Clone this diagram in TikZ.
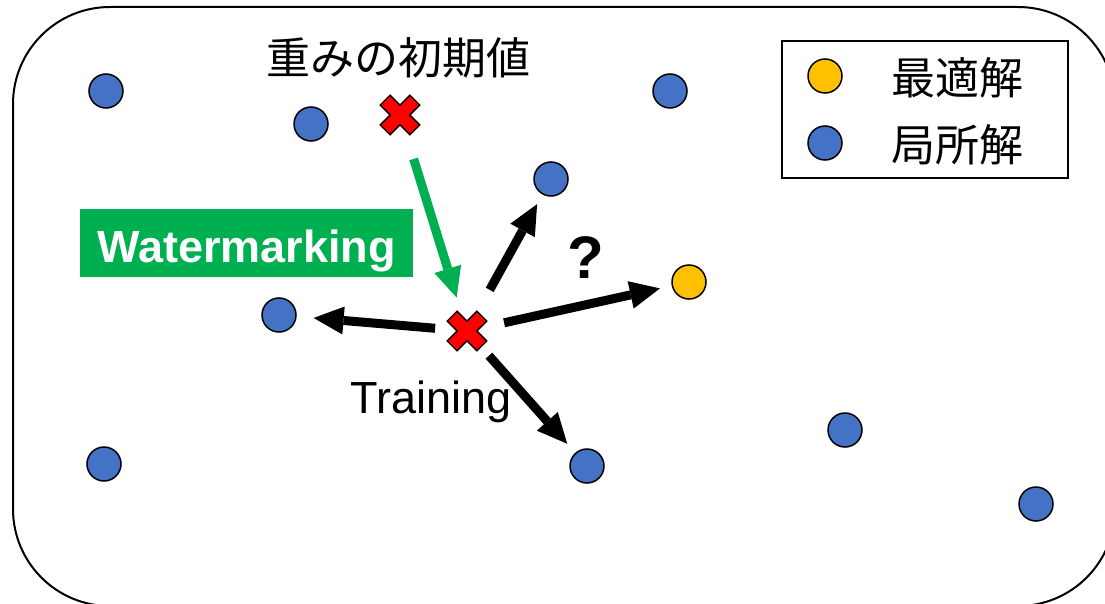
\documentclass[tikz,border=0pt]{standalone}
\usepackage{fontspec}
\setmainfont{Liberation Sans}
\newfontfamily\jpfont{Noto Sans CJK JP}
\usetikzlibrary{arrows.meta}
\definecolor{blu}{HTML}{4472C4}
\definecolor{yel}{HTML}{FFC000}
\definecolor{grn}{HTML}{00B050}
\tikzset{
  pt/.style={circle,draw=black,line width=1.5pt,minimum size=34pt,inner sep=0pt},
  loc/.style={pt,fill=blu},
  opt/.style={pt,fill=yel},
  arr/.style={line width=9pt,-{Triangle[length=30pt,width=28pt,line width=0pt]}},
  garr/.style={arr,draw=grn},
  jp/.style={font=\jpfont\fontsize{44}{48}\selectfont,inner sep=0pt},
  en/.style={font=\fontsize{45}{50}\selectfont,inner sep=0pt},
  xmark/.pic={\filldraw[fill=red,draw=black,line width=1.3pt,rotate=45]
    (-7,21) -- (7,21) -- (7,7) -- (21,7) -- (21,-7) -- (7,-7) -- (7,-21) -- (-7,-21)
    -- (-7,-7) -- (-21,-7) -- (-21,7) -- (-7,7) -- cycle;}
}
\begin{document}
\begin{tikzpicture}[x=1pt,y=-1pt]
\useasboundingbox (0,0) rectangle (1105,604);
\draw[line width=2pt,rounded corners=97pt] (13,7) rectangle (1115,606);
% legend
\node[draw=black,line width=1.5pt,minimum width=286pt,minimum height=137pt,inner sep=0pt] (leg) at (925,109.5) {};
\node[opt] (lo) at (825,76) {};
\node[loc] (ll) at (825,143) {};
\node[jp] (lot) at (957,78) {最適解};
\node[jp] (llt) at (957,145) {局所解};
% points
\node[loc] (b1) at (106,91) {};
\node[loc] (b2) at (311,124) {};
\node[loc] (b3) at (670,91) {};
\node[loc] (b4) at (551,179) {};
\node[loc] (b5) at (279,315) {};
\node[loc] (b6) at (104,464) {};
\node[loc] (b7) at (587,466) {};
\node[loc] (b8) at (845,430) {};
\node[loc] (b9) at (1036,504) {};
\node[opt] (y1) at (689,282) {};
% crosses
\coordinate (w0) at (400,115);
\coordinate (w1) at (467,331);
% texts
\node[jp] (init) at (398,58) {重みの初期値};
\node[fill=grn,text=white,font=\bfseries\fontsize{45}{50}\selectfont,minimum width=333pt,minimum height=68pt,inner sep=0pt,text height=40pt,text depth=2pt] (wm) at (246.5,243) {Watermarking};
\node[en,anchor=base] (tr) at (431,413) {Training};
\node[font=\bfseries\fontsize{60}{64}\selectfont,inner sep=0pt,anchor=base] (q) at (586,278) {?};
% arrows
\draw[garr,shorten <=46pt,shorten >=35pt] (w0) -- (w1);
\draw[arr,shorten <=32pt,shorten >=17pt] (w1) -- (b5);
\draw[arr,shorten <=47pt,shorten >=11pt] (w1) -- (b4);
\draw[arr,shorten <=38pt,shorten >=12pt] (w1) -- (y1);
\draw[arr,shorten <=33pt,shorten >=12pt] (w1) -- (b7);
\pic at (w0) {xmark};
\pic at (w1) {xmark};
\end{tikzpicture}
\end{document}
